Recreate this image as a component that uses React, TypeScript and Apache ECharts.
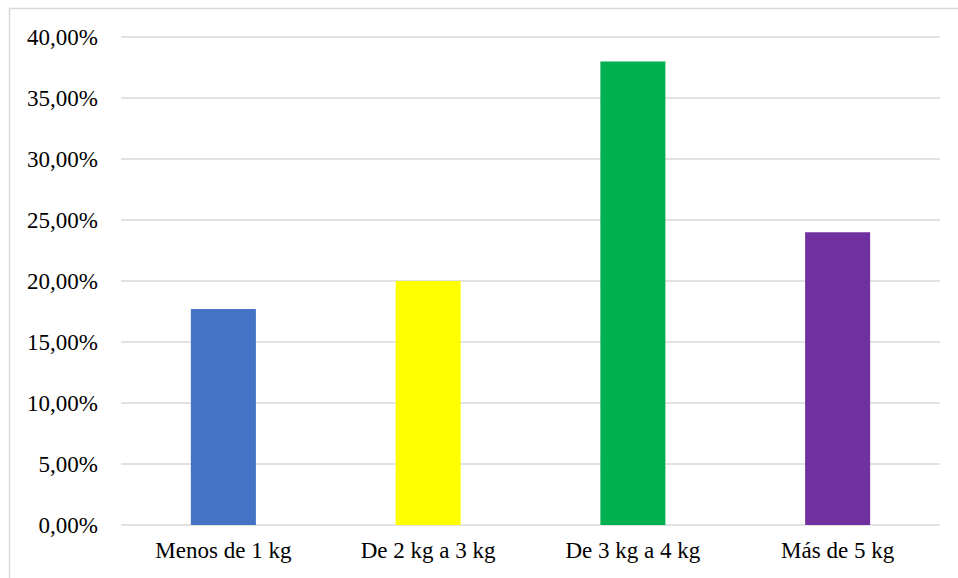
import React, { useEffect, useRef } from "react";
import * as echarts from "echarts";

const categories = ["Menos de 1 kg", "De 2 kg a 3 kg", "De 3 kg a 4 kg", "Más de 5 kg"];
const shares = [17.7, 20, 38, 24];
const barColors = ["#4472C4", "#FFFF00", "#00B050", "#7030A0"];

const FONT = "'Liberation Serif', 'Times New Roman', serif";

export default function App() {
  const ref = useRef<HTMLDivElement>(null);

  useEffect(() => {
    if (!ref.current) return;
    const chart = echarts.init(ref.current, null, { renderer: "svg" });
    chart.setOption({
      animation: false,
      backgroundColor: "#ffffff",
      graphic: [
        {
          type: "rect",
          shape: { x: 9.5, y: 8.5, width: 1000, height: 1000 },
          style: { fill: "none", stroke: "#D9D9D9", lineWidth: 1.5 },
          silent: true,
        },
      ],
      grid: { left: 121, right: 18, top: 37, bottom: 53 },
      xAxis: {
        type: "category",
        data: categories,
        axisLine: { show: false },
        axisTick: { show: false },
        axisLabel: { color: "#000", fontFamily: FONT, fontSize: 23, margin: 14 },
      },
      yAxis: {
        type: "value",
        min: 0,
        max: 40,
        interval: 5,
        axisLine: { show: false },
        axisTick: { show: false },
        splitLine: { lineStyle: { color: "#D9D9D9", width: 1.5 } },
        axisLabel: {
          color: "#000",
          fontFamily: FONT,
          fontSize: 23,
          margin: 23,
          formatter: (v: number) => v.toFixed(2).replace(".", ",") + "%",
        },
      },
      series: [
        {
          type: "bar",
          barWidth: 65,
          data: shares.map((v, i) => ({ value: v, itemStyle: { color: barColors[i] } })),
        },
      ],
    });
    return () => chart.dispose();
  }, []);

  return (
    <div
      ref={ref}
      style={{ position: "fixed", left: 0, top: 0, width: 958, height: 578 }}
    />
  );
}
